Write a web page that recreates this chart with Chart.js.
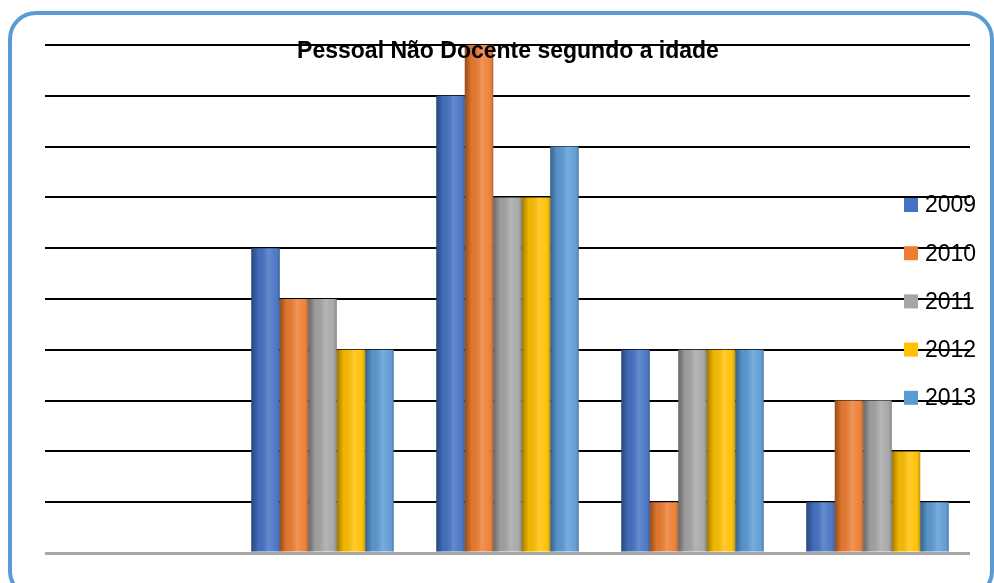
<!DOCTYPE html>
<html>
<head>
<meta charset="utf-8">
<script src="https://cdn.jsdelivr.net/npm/chart.js@4"></script>
<style>
  html, body { margin: 0; padding: 0; background: #fff; }
  #wrap { position: relative; width: 994px; height: 583px; overflow: hidden; }
  #frame {
    position: absolute; left: 8px; top: 11px; width: 978px; height: 580px;
    border: 4px solid #5b9bd5; border-radius: 28px; pointer-events: none;
  }
</style>
</head>
<body>
<div id="wrap">
  <canvas id="chart" width="994" height="583"></canvas>
  <div id="frame"></div>
</div>
<script>
// ============================================================
// DATA
// ============================================================

const chartTitle = "Pessoal Não Docente segundo a idade";

// age groups (no labels shown on the original axis)
const categories = ["", "", "", "", ""];

const years = ["2009", "2010", "2011", "2012", "2013"];
const yearColors = ["#4472c4", "#ed7d31", "#a5a5a5", "#ffc000", "#5b9bd5"];

const values2009 = [0, 6, 9, 4, 1];
const values2010 = [0, 5, 10, 1, 3];
const values2011 = [0, 5, 7, 4, 3];
const values2012 = [0, 4, 7, 4, 2];
const values2013 = [0, 4, 8, 4, 1];

const seriesValues = [values2009, values2010, values2011, values2012, values2013];

const yMax = 10;
const yStep = 1;

// ============================================================
// PLUGINS
// ============================================================

// cylinder-like shading over each bar
const barShading = {
  id: "barShading",
  afterDatasetsDraw(chart) {
    const ctx = chart.ctx;
    chart.data.datasets.forEach((ds, i) => {
      const meta = chart.getDatasetMeta(i);
      meta.data.forEach(bar => {
        const w = bar.width;
        const left = bar.x - w / 2;
        const top = Math.min(bar.y, bar.base);
        const h = Math.abs(bar.base - bar.y);
        if (h <= 0) return;
        const g = ctx.createLinearGradient(left, 0, left + w, 0);
        g.addColorStop(0, "rgba(0,0,0,0.38)");
        g.addColorStop(0.25, "rgba(0,0,0,0.05)");
        g.addColorStop(0.6, "rgba(255,255,255,0.18)");
        g.addColorStop(0.85, "rgba(255,255,255,0.05)");
        g.addColorStop(1, "rgba(0,0,0,0.25)");
        ctx.save();
        ctx.fillStyle = g;
        ctx.fillRect(left, top, w, h);
        ctx.restore();
      });
    });
  }
};

// title and legend drawn on top of the plot, like the original
const overlay = {
  id: "overlay",
  afterDraw(chart) {
    const ctx = chart.ctx;
    ctx.save();
    ctx.fillStyle = "#000";
    ctx.font = "bold 23px 'Liberation Sans', Arial, sans-serif";
    ctx.textAlign = "center";
    ctx.textBaseline = "middle";
    ctx.fillText(chartTitle, 508, 52);

    ctx.font = "23px 'Liberation Sans', Arial, sans-serif";
    ctx.textAlign = "left";
    chart.data.datasets.forEach((ds, i) => {
      const y = 205 + i * 48.2;
      ctx.fillStyle = ds.backgroundColor;
      ctx.fillRect(904, y - 7, 14, 14);
      ctx.fillStyle = "#000";
      ctx.fillText(ds.label, 925, y + 1);
    });
    ctx.restore();
  }
};

// ============================================================
// CHART
// ============================================================

const datasets = years.map((year, i) => ({
  label: year,
  data: seriesValues[i],
  backgroundColor: yearColors[i],
  borderWidth: 0,
  barPercentage: 1,
  categoryPercentage: 0.77
}));

new Chart(document.getElementById("chart"), {
  type: "bar",
  data: {
    labels: categories,
    datasets
  },
  options: {
    responsive: false,
    animation: false,
    layout: {
      padding: { left: 45, right: 24, top: 45, bottom: 22 }
    },
    plugins: {
      legend: { display: false },
      title: { display: false },
      tooltip: { enabled: false }
    },
    scales: {
      x: {
        grid: { display: false },
        border: { display: false },
        ticks: { display: false }
      },
      y: {
        min: 0,
        max: yMax,
        ticks: { display: false, stepSize: yStep },
        border: { display: false },
        grid: {
          drawTicks: false,
          lineWidth: function (context) {
            return context.tick && context.tick.value === 0 ? 3 : 2;
          },
          color: function (context) {
            return context.tick && context.tick.value === 0 ? "#a6a6a6" : "#000";
          }
        }
      }
    }
  },
  plugins: [barShading, overlay]
});
</script>
</body>
</html>
